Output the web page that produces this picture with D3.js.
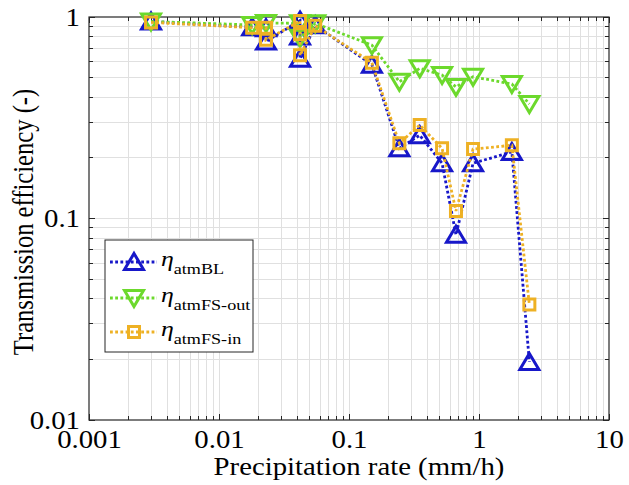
<!DOCTYPE html>
<html>
<head>
<meta charset="utf-8">
<script src="https://cdn.jsdelivr.net/npm/d3@7"></script>
<style>
  html, body { margin: 0; padding: 0; background: #fff; }
  svg { display: block; }
  text { font-family: "Liberation Serif", "Times New Roman", serif; fill: #000; }
</style>
</head>
<body>
<svg id="chart" width="629" height="485"></svg>
<script>
// ---- data ----
const precipBL    = [0.003, 0.018, 0.023, 0.023, 0.042, 0.042, 0.042, 0.055, 0.15, 0.244, 0.35, 0.52, 0.665, 0.9, 1.79, 2.44];
const etaBL       = [0.95, 0.89, 0.88, 0.755, 0.96, 0.80, 0.62, 0.91, 0.58, 0.223, 0.259, 0.188, 0.083, 0.188, 0.214, 0.0194];
const precipFSout = [0.003, 0.018, 0.023, 0.042, 0.042, 0.055, 0.15, 0.244, 0.35, 0.52, 0.665, 0.9, 1.79, 2.44];
const etaFSout    = [0.95, 0.913, 0.934, 0.93, 0.79, 0.93, 0.725, 0.477, 0.556, 0.515, 0.45, 0.505, 0.465, 0.37];
const precipFSin  = [0.003, 0.018, 0.023, 0.023, 0.042, 0.042, 0.042, 0.055, 0.15, 0.244, 0.35, 0.52, 0.665, 0.9, 1.79, 2.44];
const etaFSin     = [0.94, 0.885, 0.885, 0.77, 0.955, 0.82, 0.645, 0.905, 0.593, 0.236, 0.291, 0.223, 0.109, 0.221, 0.231, 0.0374];

const xTickValues = [0.001, 0.01, 0.1, 1, 10];
const xTickLabels = ["0.001", "0.01", "0.1", "1", "10"];
const yTickValues = [0.01, 0.1, 1];
const yTickLabels = ["0.01", "0.1", "1"];

const seriesNames = ["atmBL", "atmFS-out", "atmFS-in"];

// ---- layout ----
const L = 89, R = 609, T = 17, B = 420;
const FS = 24.6;      // base font size
const SX = 1.17;      // horizontal stretch of the reference picture
const svg = d3.select("#chart");

const x = d3.scaleLog().domain([0.001, 10]).range([L, R]);
const y = d3.scaleLog().domain([0.01, 1]).range([B, T]);

const gridColor = "#e0e0e0";
const axisColor = "#262626";

function logTicks(lo, hi) {
  const out = [];
  for (let e = Math.round(Math.log10(lo)); e < Math.round(Math.log10(hi)); e++) {
    for (let m = 1; m <= 9; m++) out.push({v: m * Math.pow(10, e), major: m === 1});
  }
  out.push({v: hi, major: true});
  return out;
}
const xt = logTicks(0.001, 10);
const yt = logTicks(0.01, 1);

// grid
const grid = svg.append("g");
grid.selectAll(".gx").data(xt.filter(d => d.v > 0.001 && d.v < 10)).enter().append("line")
  .attr("x1", d => x(d.v)).attr("x2", d => x(d.v)).attr("y1", T).attr("y2", B)
  .attr("stroke", gridColor).attr("stroke-width", 1).attr("shape-rendering", "crispEdges");
grid.selectAll(".gy").data(yt.filter(d => d.v > 0.01 && d.v < 1)).enter().append("line")
  .attr("y1", d => y(d.v)).attr("y2", d => y(d.v)).attr("x1", L).attr("x2", R)
  .attr("stroke", gridColor).attr("stroke-width", 1).attr("shape-rendering", "crispEdges");

// inward ticks on all four sides
const tickLen = d => d.major ? 6 : 4;
function drawTicks(g, vals, scale, orient) {
  g.selectAll("line").data(vals).enter().append("line")
    .attr("stroke", axisColor).attr("stroke-width", 1).attr("shape-rendering", "crispEdges")
    .each(function(d) {
      const s = d3.select(this), p = scale(d.v), l = tickLen(d);
      if (orient === "bottom") s.attr("x1", p).attr("x2", p).attr("y1", B).attr("y2", B - l);
      if (orient === "top") s.attr("x1", p).attr("x2", p).attr("y1", T).attr("y2", T + l);
      if (orient === "left") s.attr("y1", p).attr("y2", p).attr("x1", L).attr("x2", L + l);
      if (orient === "right") s.attr("y1", p).attr("y2", p).attr("x1", R).attr("x2", R - l);
    });
}
drawTicks(svg.append("g"), xt, x, "bottom");
drawTicks(svg.append("g"), xt, x, "top");
drawTicks(svg.append("g"), yt, y, "left");
drawTicks(svg.append("g"), yt, y, "right");

svg.append("rect").attr("x", L).attr("y", T).attr("width", R - L).attr("height", B - T)
  .attr("fill", "none").attr("stroke", axisColor).attr("stroke-width", 1.2);

// tick labels (positions from d3 axes, text stretched horizontally like the reference)
const xAxis = d3.axisBottom(x).tickValues(xTickValues).tickFormat((d, i) => xTickLabels[i]).tickSize(0);
const gx = svg.append("g").attr("transform", `translate(0,${B})`).call(xAxis);
gx.select(".domain").remove();
gx.selectAll("text").attr("font-family", "Liberation Serif").attr("font-size", FS).attr("fill", "#000")
  .attr("y", 0).attr("dy", null).attr("transform", `translate(0,28) scale(${SX},1)`);

const yAxis = d3.axisLeft(y).tickValues(yTickValues).tickFormat((d, i) => yTickLabels[i]).tickSize(0);
const gy = svg.append("g").attr("transform", `translate(${L},0)`).call(yAxis);
gy.select(".domain").remove();
gy.selectAll("text").attr("font-family", "Liberation Serif").attr("font-size", FS).attr("fill", "#000")
  .attr("x", 0).attr("dy", null).attr("transform", `translate(-9,8) scale(${SX},1)`);

// axis titles
svg.append("text").attr("transform", `translate(359,475) scale(${SX},1)`).attr("text-anchor", "middle")
  .attr("font-size", FS).text("Precipitation rate (mm/h)");
svg.append("text").attr("transform", `translate(33,222) scale(${SX},1) rotate(-90)`)
  .attr("text-anchor", "middle").attr("font-size", FS)
  .text("Transmission efficiency (-)");

// ---- series ----
const colors = ["#1717c9", "#6cd92c", "#eeb124"];
const markerPaths = [
  "M0,-8.5L9.5,7.5L-9.5,7.5Z",   // up triangle
  "M0,8.5L9.5,-7.5L-9.5,-7.5Z",  // down triangle
  "M-5.5,-5.5H5.5V5.5H-5.5Z"     // square
];
const series = [
  {xs: precipBL, ys: etaBL},
  {xs: precipFSout, ys: etaFSout},
  {xs: precipFSin, ys: etaFSin}
];
const line = d3.line().x(d => x(d[0])).y(d => y(d[1]));
const plot = svg.append("g");
series.forEach((s, i) => {
  const pts = s.xs.map((v, j) => [v, s.ys[j]]);
  plot.append("path").attr("d", line(pts)).attr("fill", "none")
    .attr("stroke", colors[i]).attr("stroke-width", 2.8).attr("stroke-dasharray", "2.8,2.4");
  plot.selectAll(null).data(pts).enter().append("path")
    .attr("d", markerPaths[i])
    .attr("transform", d => `translate(${x(d[0])},${y(d[1])})`)
    .attr("fill", "none").attr("stroke", colors[i]).attr("stroke-width", 3)
    .attr("stroke-linejoin", "miter");
});

// ---- legend ----
const lg = svg.append("g");
lg.append("rect").attr("x", 105).attr("y", 240).attr("width", 148).attr("height", 112)
  .attr("fill", "#fff").attr("stroke", axisColor).attr("stroke-width", 1);
const rowY = [262, 298, 332];
seriesNames.forEach((name, i) => {
  const yy = rowY[i];
  lg.append("line").attr("x1", 110).attr("x2", 157).attr("y1", yy).attr("y2", yy)
    .attr("stroke", colors[i]).attr("stroke-width", 2.8).attr("stroke-dasharray", "2.8,2.4");
  lg.append("path").attr("d", markerPaths[i]).attr("transform", `translate(134,${yy})`)
    .attr("fill", "none").attr("stroke", colors[i]).attr("stroke-width", 3);
  const t = lg.append("text").attr("transform", `translate(161,${yy + 3.5}) scale(${SX},1)`);
  t.append("tspan").attr("font-style", "italic").attr("font-size", 22).text("η");
  t.append("tspan").attr("font-size", 15.5).attr("dy", 8).text(name);
});
</script>
</body>
</html>
